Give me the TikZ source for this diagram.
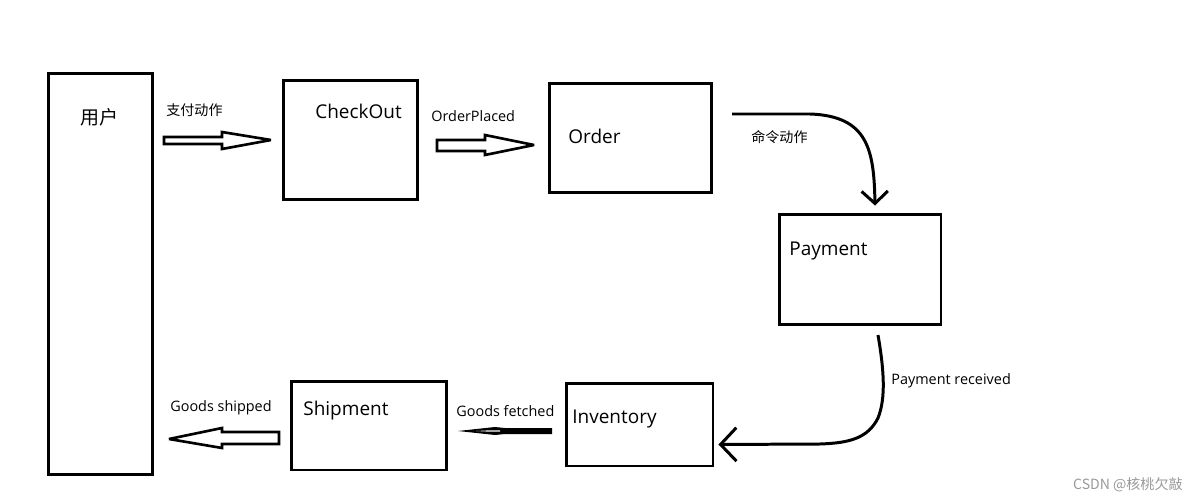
\documentclass[tikz,border=0pt]{standalone}
\usepackage{fontspec}
\setmainfont{Open Sans}
\newfontfamily\cjk{Noto Sans CJK SC}
\usetikzlibrary{arrows.meta}
\begin{document}
\begin{tikzpicture}[x=0.02cm,y=-0.02cm,
  box/.style={draw,line width=1.7pt,inner sep=0pt},
  boxlabel/.style={anchor=west,inner sep=0pt,font=\fontsize{10.8}{12}\selectfont},
  small/.style={anchor=west,inner sep=0pt,font=\fontsize{8.2}{10}\selectfont},
  smallcjk/.style={anchor=west,inner sep=0pt,font=\cjk\fontsize{8}{10}\selectfont},
  blockarrow/.style={draw,line width=1.5pt,fill=white,line join=miter,miter limit=4},
  curvearrow/.style={line width=1.7pt}
]
\useasboundingbox (0,0) rectangle (1200,500);
% boxes
\node[box,minimum width=2.1cm,minimum height=8.04cm] (user) at (100.5,274) {};
\node[box,minimum width=2.7cm,minimum height=2.4cm] (checkout) at (350.5,140) {};
\node[box,minimum width=3.26cm,minimum height=2.2cm] (order) at (630.5,138) {};
\node[box,minimum width=3.24cm,minimum height=2.22cm] (payment) at (860,269.5) {};
\node[box,minimum width=2.94cm,minimum height=1.66cm] (inventory) at (639.5,424.5) {};
\node[box,minimum width=3.12cm,minimum height=1.78cm] (shipment) at (369,425.5) {};
% box labels
\node[anchor=west,inner sep=0pt,font=\cjk\fontsize{10.8}{12}\selectfont] (userlbl) at (80,117) {用户};
\node[boxlabel] (checkoutlbl) at (315,111) {CheckOut};
\node[boxlabel] (orderlbl) at (568,136) {Order};
\node[boxlabel] (paymentlbl) at (789,251) {Payment};
\node[boxlabel] (inventorylbl) at (572,419) {Inventory};
\node[boxlabel] (shipmentlbl) at (303,411) {Shipment};
% connector labels
\node[smallcjk] (l1) at (166,110) {支付动作};
\node[small] (l2) at (431,116) {OrderPlaced};
\node[smallcjk] (l3) at (751,137) {命令动作};
\node[small] (l4) at (891,381) {Payment received};
\node[small] (l5) at (456,411) {Goods fetched};
\node[small] (l6) at (170,408) {Goods shipped};
% block arrows
\draw[blockarrow] (164,137)--(222,137)--(222,132)--(271,140)--(222,149)--(222,144)--(164,144)--cycle;
\draw[blockarrow] (437,140)--(485,140)--(485,135)--(534,145)--(485,155)--(485,151)--(437,151)--cycle;
\draw[blockarrow] (279,432)--(222,432)--(222,428)--(169,439)--(222,448)--(222,444)--(279,444)--cycle;
\fill (552,428)--(505,428)--(495,427)--(458,431)--(495,435)--(505,434)--(552,434)--cycle;
\fill[white] (500,430.3)--(490,430.3)--(476,431)--(490,431.7)--(500,431.7)--cycle;
% curved arrows
\coordinate (c1s) at (732,114);
\coordinate (c1e) at ([xshift=0.3cm,yshift=0.14cm]payment.north);
\draw[curvearrow,-{Straight Barb[length=7pt,width=15pt,line width=1.7pt]}] (c1s) -- (810,114) .. controls (868,116) and (874,150) .. (c1e);
\coordinate (c2s) at (878,335);
\coordinate (c2e) at ([xshift=0.08cm,yshift=-0.4cm]inventory.east);
\draw[curvearrow,-{Straight Barb[length=9pt,width=19pt,line width=1.7pt]}] (c2s) .. controls (884,370) and (886,398) .. (878,418) .. controls (868,438) and (850,443) .. (820,444) -- (c2e);
% watermark
\node[anchor=east,inner sep=0pt,text=black!40,font=\cjk\fontsize{8}{10}\selectfont] (wm) at (1183,485) {CSDN @核桃欠敲};
\end{tikzpicture}
\end{document}
